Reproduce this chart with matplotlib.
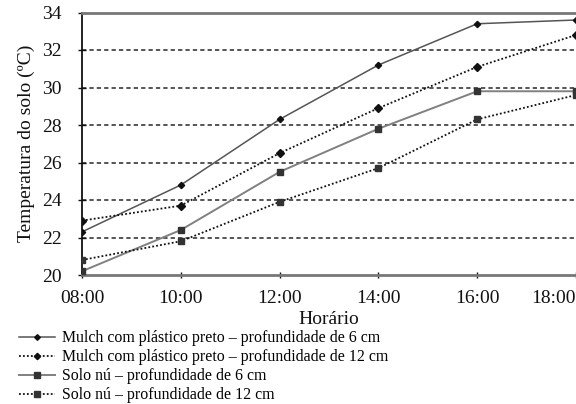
import matplotlib
matplotlib.use("Agg")
import matplotlib.pyplot as plt

hours = [8, 10, 12, 14, 16, 18]
tick_labels = ["08:00", "10:00", "12:00", "14:00", "16:00", "18:00"]
mulch_6 = [22.3, 24.8, 28.3, 31.2, 33.4, 33.6]
mulch_12 = [22.9, 23.7, 26.5, 28.9, 31.1, 32.8]
solo_6 = [20.2, 22.4, 25.5, 27.8, 29.8, 29.8]
solo_12 = [20.8, 21.8, 23.9, 25.7, 28.3, 29.6]
labels = [
    "Mulch com plástico preto – profundidade de 6 cm",
    "Mulch com plástico preto – profundidade de 12 cm",
    "Solo nú – profundidade de 6 cm",
    "Solo nú – profundidade de 12 cm",
]

plt.rcParams['font.family'] = ['Liberation Serif', 'DejaVu Serif']

fig = plt.figure(figsize=(5.76, 4.04), dpi=100)
ax = fig.add_axes([82/576, 1-275/404, 1-82/576, (275-12.5)/404])

for yv in [22, 24, 26, 28, 30, 32]:
    ax.axhline(yv, color="#555555", lw=1.4, ls=(0, (2.2, 1.6)), zorder=1)

h1, = ax.plot(hours, mulch_6, color="#555555", lw=1.1, marker="D", ms=3.2,
              mfc="#111111", mec="#111111", zorder=3)
h2, = ax.plot(hours, mulch_12, color="#111111", lw=1.3, ls=(0, (1, 1.2)), marker="D", ms=3.6,
              mfc="#111111", mec="#111111", zorder=3)
h3, = ax.plot(hours, solo_6, color="#808080", lw=1.4, marker="s", ms=4.2,
              mfc="#333333", mec="#333333", zorder=3)
h4, = ax.plot(hours, solo_12, color="#111111", lw=1.3, ls=(0, (1, 1.2)), marker="s", ms=4.2,
              mfc="#333333", mec="#333333", zorder=3)

ax.set_xlim(8, 18)
ax.set_ylim(20, 34)
ax.set_xticks(hours)
ax.set_xticklabels(tick_labels)
ax.get_xticklabels()[-1].set_horizontalalignment("right")
ax.set_yticks(range(20, 35, 2))
ax.tick_params(axis="y", direction="inout", length=6, width=1, labelsize=14, pad=11.5, colors="#111111")
ax.tick_params(axis="x", direction="inout", length=5, width=1, labelsize=14, pad=8.5, colors="#111111")
for s in ["top", "bottom"]:
    ax.spines[s].set_color("#777777")
    ax.spines[s].set_linewidth(2)
ax.spines["left"].set_color("#111111")
ax.spines["left"].set_linewidth(1.3)
ax.spines["right"].set_visible(False)

ax.set_xlabel("Horário", fontsize=14, labelpad=3, color="#111111")
ax.set_ylabel("Temperatura do solo (ºC)", fontsize=14, labelpad=5, color="#111111")

fig.legend([h1, h2, h3, h4], labels, loc="upper left", bbox_to_anchor=(19/576, 1-330.5/404),
           frameon=False, fontsize=11.4, handlelength=2.3, handletextpad=0.44,
           labelspacing=0.18, borderpad=0, borderaxespad=0, markerscale=0.9)

fig.savefig("out.png", dpi=100)
